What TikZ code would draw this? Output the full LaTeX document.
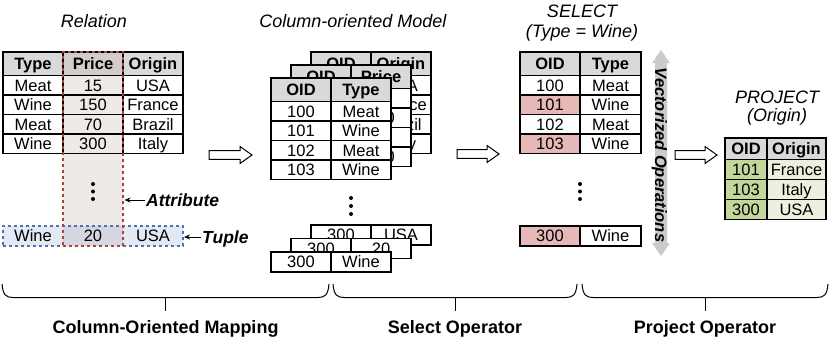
\documentclass[tikz,border=0pt]{standalone}
\usepackage{fontspec}
\setmainfont{Liberation Sans}
\usetikzlibrary{arrows.meta}
\definecolor{hdrgray}{HTML}{D9D9D9}
\definecolor{attrfill}{HTML}{EFE9E7}
\definecolor{pricehdr}{HTML}{D4CBCB}
\definecolor{tuplefill}{HTML}{E3E9F3}
\definecolor{tupleprice}{HTML}{D5D6DF}
\definecolor{attrline}{HTML}{A5453E}
\definecolor{tupleline}{HTML}{4A72B0}
\definecolor{selpink}{HTML}{E6B9B8}
\definecolor{pjdark}{HTML}{C4D79B}
\definecolor{pjlight}{HTML}{EBF1DE}
\definecolor{vecgray}{HTML}{CBCBCB}
\newcommand\cellfont{\fontsize{16.5}{18}\selectfont}
\newcommand\tcell[7]{\node[#6, minimum width={(#4-#2)*1pt}, minimum height={(#5-#3)*1pt}] (#1) at ({(#2+#4)/2},{(#3+#5)/2}) {#7};}
\newcommand\hollowarrow[4]{%
  \coordinate (#1s) at (#2,#4); \coordinate (#1e) at (#3,#4);
  \draw[line width=1pt, fill=white] (#2,#4-4.3) -- (#3-12,#4-4.3) -- (#3-12,#4-8.5) -- (#1e) -- (#3-12,#4+8.5) -- (#3-12,#4+4.3) -- (#2,#4+4.3) -- cycle;}
\newcommand\bracepath[2]{%
  \draw[line width=1pt] (#1,284) .. controls (#1+1,295) and (#1+4,297.5) .. (#1+11,297.5) -- (#2-11,297.5) .. controls (#2-4,297.5) and (#2-1,295) .. (#2,284);
  \draw[line width=1pt] ({(#1+#2)/2},297.5) -- ({(#1+#2)/2},311);}
\tikzset{
  cellbase/.style={draw=black, line width=1.1pt, inner sep=0pt, outer sep=0pt, text height=11.8pt, text depth=0pt, font=\cellfont},
  hdr/.style={cellbase, fill=hdrgray, font=\cellfont\bfseries},
  bodycell/.style={cellbase, fill=white},
  clearcell/.style={cellbase},
  pinkcell/.style={cellbase, fill=selpink},
  tuplecell/.style={cellbase, draw=none, fill=tuplefill},
  greendark/.style={cellbase, fill=pjdark},
  greenlight/.style={cellbase, fill=pjlight},
  titletext/.style={font=\fontsize{18}{20}\selectfont\itshape, inner sep=0pt, text height=12.9pt, text depth=0pt},
  tagtext/.style={font=\fontsize{17.5}{20}\selectfont\bfseries\itshape, inner sep=1pt, text height=12.5pt, text depth=0pt},
  labeltext/.style={font=\fontsize{18}{20}\selectfont\bfseries, inner sep=0pt, text height=12.9pt, text depth=0pt},
  attrbox/.style={draw=attrline, dashed, line width=1.2pt, inner sep=0pt},
  tuplebox/.style={draw=tupleline, dashed, line width=1.2pt, inner sep=0pt},
  pointer/.style={line width=0.9pt, -{Stealth[length=6pt,width=5pt]}},
}
\begin{document}
\begin{tikzpicture}[x=1pt,y=-1pt]
\useasboundingbox (0,0) rectangle (830,338);

% ---------- titles ----------
\node[titletext] (tRel) at (94,21) {Relation};
\node[titletext] (tCol) at (353,21) {Column-oriented Model};
\node[titletext] (tSel1) at (582,11) {SELECT};
\node[titletext] (tSel2) at (582,31.5) {(Type = Wine)};
\node[titletext] (tPro1) at (777,96.7) {PROJECT};
\node[titletext] (tPro2) at (777,115) {(Origin)};

% ---------- Relation ----------
\fill[attrfill] (63,52) rectangle (123,246);
\tcell{rH1}{3}{52}{63}{75.5}{hdr}{Type}
\tcell{rH2}{63}{52}{123}{75.5}{hdr,fill=pricehdr}{Price}
\tcell{rH3}{123}{52}{183}{75.5}{hdr}{Origin}
\tcell{r11}{3}{75.5}{63}{95}{bodycell}{Meat}
\tcell{r12}{63}{75.5}{123}{95}{clearcell}{15}
\tcell{r13}{123}{75.5}{183}{95}{bodycell}{USA}
\tcell{r21}{3}{95}{63}{114.5}{bodycell}{Wine}
\tcell{r22}{63}{95}{123}{114.5}{clearcell}{150}
\tcell{r23}{123}{95}{183}{114.5}{bodycell}{France}
\tcell{r31}{3}{114.5}{63}{134}{bodycell}{Meat}
\tcell{r32}{63}{114.5}{123}{134}{clearcell}{70}
\tcell{r33}{123}{114.5}{183}{134}{bodycell}{Brazil}
\tcell{r41}{3}{134}{63}{153.5}{bodycell}{Wine}
\tcell{r42}{63}{134}{123}{153.5}{clearcell}{300}
\tcell{r43}{123}{134}{183}{153.5}{bodycell}{Italy}
\tcell{t1}{3}{226}{63}{246}{tuplecell}{Wine}
\tcell{t2}{63}{226}{123}{246}{tuplecell,fill=tupleprice}{20}
\tcell{t3}{123}{226}{183}{246}{tuplecell}{USA}
\node[tuplebox, minimum width=180pt, minimum height=20pt] (tuple) at (93,236) {};
\node[attrbox, minimum width=60pt, minimum height=194pt] (attr) at (93,149) {};
\foreach \yy in {184,191.5,199} \fill (93,\yy) circle (2pt);
\node[tagtext, anchor=west] (attrlab) at (145,200) {Attribute};
\coordinate (attrtip) at (124.5,200);
\draw[pointer] (attrlab.west) -- (attrtip);
\node[tagtext, anchor=west] (tuplab) at (201,237) {Tuple};
\coordinate (tupletip) at (184,237);
\draw[pointer] (tuplab.west) -- (tupletip);

% ---------- arrows ----------
\hollowarrow{aA}{209}{252}{155}
\hollowarrow{aB}{457}{499}{154}
\hollowarrow{aC}{675}{717}{155}

% ---------- Column-oriented model ----------
% back: OID / Origin
\tcell{bH1}{311}{52}{371}{75.5}{hdr}{OID}
\tcell{bH2}{371}{52}{431}{75.5}{hdr}{Origin}
\tcell{b11}{311}{75.5}{371}{95}{bodycell}{100}
\tcell{b12}{371}{75.5}{431}{95}{bodycell}{USA}
\tcell{b21}{311}{95}{371}{114.5}{bodycell}{101}
\tcell{b22}{371}{95}{431}{114.5}{bodycell}{France}
\tcell{b31}{311}{114.5}{371}{134}{bodycell}{102}
\tcell{b32}{371}{114.5}{431}{134}{bodycell}{Brazil}
\tcell{b41}{311}{134}{371}{153.5}{bodycell}{103}
\tcell{b42}{371}{134}{431}{153.5}{bodycell}{Italy}
% middle: OID / Price
\tcell{mH1}{291}{65}{351}{88.5}{hdr}{OID}
\tcell{mH2}{351}{65}{411}{88.5}{hdr}{Price}
\tcell{m11}{291}{88.5}{351}{108}{bodycell}{100}
\tcell{m12}{351}{88.5}{411}{108}{bodycell}{15}
\tcell{m21}{291}{108}{351}{127.5}{bodycell}{101}
\tcell{m22}{351}{108}{411}{127.5}{bodycell}{150}
\tcell{m31}{291}{127.5}{351}{147}{bodycell}{102}
\tcell{m32}{351}{127.5}{411}{147}{bodycell}{70}
\tcell{m41}{291}{147}{351}{166.5}{bodycell}{103}
\tcell{m42}{351}{147}{411}{166.5}{bodycell}{300}
% front: OID / Type
\tcell{fH1}{271}{78}{331}{101.5}{hdr}{OID}
\tcell{fH2}{331}{78}{391}{101.5}{hdr}{Type}
\tcell{f11}{271}{101.5}{331}{121}{bodycell}{100}
\tcell{f12}{331}{101.5}{391}{121}{bodycell}{Meat}
\tcell{f21}{271}{121}{331}{140.5}{bodycell}{101}
\tcell{f22}{331}{121}{391}{140.5}{bodycell}{Wine}
\tcell{f31}{271}{140.5}{331}{160}{bodycell}{102}
\tcell{f32}{331}{140.5}{391}{160}{bodycell}{Meat}
\tcell{f41}{271}{160}{331}{179.5}{bodycell}{103}
\tcell{f42}{331}{160}{391}{179.5}{bodycell}{Wine}
\foreach \yy in {198,206,214} \fill (351,\yy) circle (2pt);
% bottom rows
\tcell{bb1}{311}{225}{371}{245}{bodycell}{300}
\tcell{bb2}{371}{225}{431}{245}{bodycell}{USA}
\tcell{mb1}{291}{238.5}{351}{258.5}{bodycell}{300}
\tcell{mb2}{351}{238.5}{411}{258.5}{bodycell}{20}
\tcell{fb1}{271}{252}{331}{272}{bodycell}{300}
\tcell{fb2}{331}{252}{391}{272}{bodycell}{Wine}

% ---------- SELECT ----------
\tcell{sH1}{520}{52}{580}{75.5}{hdr}{OID}
\tcell{sH2}{580}{52}{641}{75.5}{hdr}{Type}
\tcell{s11}{520}{75.5}{580}{95}{bodycell}{100}
\tcell{s12}{580}{75.5}{641}{95}{bodycell}{Meat}
\tcell{s21}{520}{95}{580}{114.5}{pinkcell}{101}
\tcell{s22}{580}{95}{641}{114.5}{bodycell}{Wine}
\tcell{s31}{520}{114.5}{580}{134}{bodycell}{102}
\tcell{s32}{580}{114.5}{641}{134}{bodycell}{Meat}
\tcell{s41}{520}{134}{580}{153.5}{pinkcell}{103}
\tcell{s42}{580}{134}{641}{153.5}{bodycell}{Wine}
\foreach \yy in {184,191.5,199} \fill (580,\yy) circle (2pt);
\tcell{sb1}{520}{226}{580}{246}{pinkcell}{300}
\tcell{sb2}{580}{226}{641}{246}{bodycell}{Wine}

% ---------- Vectorized operations ----------
\fill[vecgray] (661,50) -- (670,63) -- (667,63) -- (667,243) -- (670,243) -- (661,256) -- (652,243) -- (655,243) -- (655,63) -- (652,63) -- cycle;
\node[font=\fontsize{16.5}{18}\selectfont\bfseries\itshape, rotate=-90, inner sep=0pt, text height=11.8pt, text depth=0pt] (vec) at (661,155) {Vectorized Operations};

% ---------- PROJECT ----------
\tcell{pH1}{725}{138}{767}{159.5}{hdr}{OID}
\tcell{pH2}{767}{138}{826}{159.5}{hdr}{Origin}
\tcell{p11}{725}{159.5}{767}{179.5}{greendark}{101}
\tcell{p12}{767}{159.5}{826}{179.5}{greenlight}{France}
\tcell{p21}{725}{179.5}{767}{199.5}{greendark}{103}
\tcell{p22}{767}{179.5}{826}{199.5}{greenlight}{Italy}
\tcell{p31}{725}{199.5}{767}{219.5}{greendark}{300}
\tcell{p32}{767}{199.5}{826}{219.5}{greenlight}{USA}

% ---------- braces & labels ----------
\bracepath{2}{329}
\bracepath{333}{577}
\bracepath{582}{828}
\node[labeltext] (lab1) at (165.5,327.5) {Column-Oriented Mapping};
\node[labeltext] (lab2) at (455,327.5) {Select Operator};
\node[labeltext] (lab3) at (705,327.5) {Project Operator};
\end{tikzpicture}
\end{document}
